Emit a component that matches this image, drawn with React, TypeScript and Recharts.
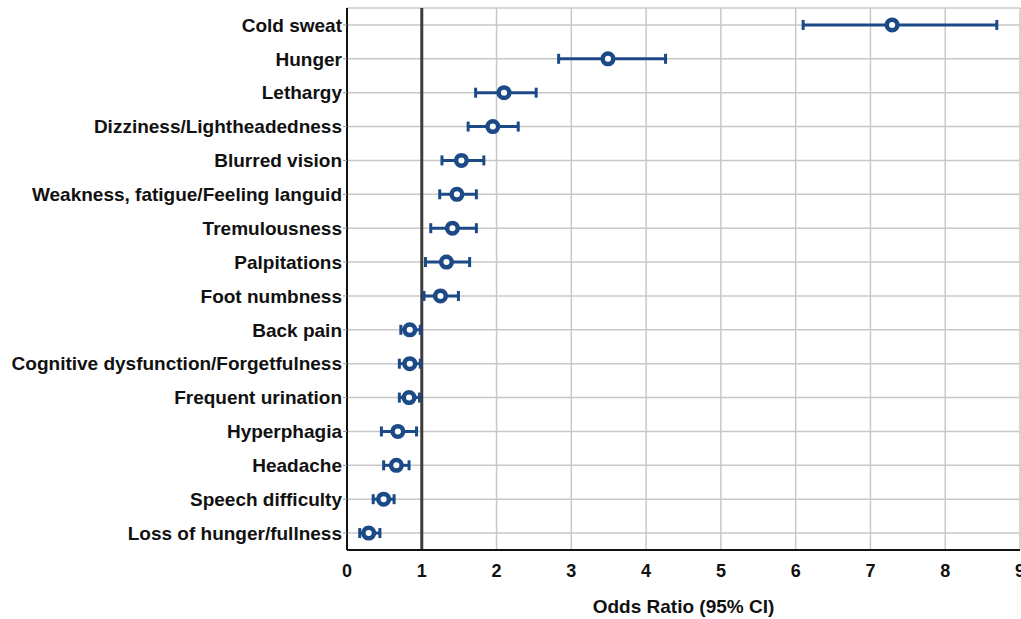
import { ScatterChart, Scatter, XAxis, YAxis, CartesianGrid, ReferenceLine, ErrorBar } from "recharts";

const symptoms = [
  "Cold sweat",
  "Hunger",
  "Lethargy",
  "Dizziness/Lightheadedness",
  "Blurred vision",
  "Weakness, fatigue/Feeling languid",
  "Tremulousness",
  "Palpitations",
  "Foot numbness",
  "Back pain",
  "Cognitive dysfunction/Forgetfulness",
  "Frequent urination",
  "Hyperphagia",
  "Headache",
  "Speech difficulty",
  "Loss of hunger/fullness",
];

const oddsRatios = [7.29, 3.49, 2.1, 1.95, 1.53, 1.47, 1.41, 1.33, 1.25, 0.84, 0.84, 0.83, 0.68, 0.66, 0.49, 0.29];
const ciLow = [6.1, 2.83, 1.72, 1.62, 1.27, 1.24, 1.12, 1.05, 1.03, 0.72, 0.7, 0.7, 0.46, 0.49, 0.35, 0.17];
const ciHigh = [8.69, 4.26, 2.53, 2.29, 1.83, 1.73, 1.73, 1.64, 1.49, 0.98, 0.98, 0.97, 0.93, 0.83, 0.63, 0.44];

const xTicks = [0, 1, 2, 3, 4, 5, 6, 7, 8, 9];

const rows = symptoms.map((name, i) => ({
  name,
  or: oddsRatios[i],
  err: [oddsRatios[i] - ciLow[i], ciHigh[i] - oddsRatios[i]],
}));

const BLUE = "#1b4a86";
const FONT = "'Liberation Sans', Arial, sans-serif";

const RingDot = (props: any) => {
  const { cx, cy } = props;
  if (cx == null || cy == null) return null;
  return <circle cx={cx} cy={cy} r={5.3} fill="#fff" stroke={BLUE} strokeWidth={4.5} />;
};

export default function App() {
  return (
    <div style={{ position: "absolute", left: 0, top: 0, width: 1021, height: 619, overflow: "hidden", background: "#fff" }}>
      <ScatterChart width={1040} height={619} margin={{ top: 8, right: 20, bottom: 0, left: 0 }}>
        <CartesianGrid stroke="#c8c8c8" strokeWidth={1.5} />
        <XAxis
          type="number"
          dataKey="or"
          domain={[0, 9]}
          ticks={xTicks}
          interval={0}
          height={69}
          tickLine={false}
          tickSize={0}
          tickMargin={14}
          axisLine={{ stroke: "#111", strokeWidth: 2 }}
          tick={{ fontSize: 18, fontWeight: 700, fill: "#111", fontFamily: FONT }}
          label={{
            value: "Odds Ratio (95% CI)",
            position: "insideBottom",
            offset: 6,
            style: { fontSize: 19, fontWeight: 700, fill: "#111", fontFamily: FONT },
          }}
        />
        <XAxis
          xAxisId="top"
          type="number"
          orientation="top"
          domain={[0, 9]}
          height={0}
          tick={false}
          tickLine={false}
          axisLine={{ stroke: "#222", strokeWidth: 2 }}
        />
        <YAxis
          type="category"
          dataKey="name"
          reversed
          width={347}
          interval={0}
          tickSize={4}
          tickMargin={1}
          tickLine={{ stroke: "#999" }}
          axisLine={{ stroke: "#111", strokeWidth: 2 }}
          tick={{ fontSize: 19, fontWeight: 700, fill: "#111", fontFamily: FONT }}
        />
        <ReferenceLine x={1} stroke="#3c3c3c" strokeWidth={3} />
        <Scatter data={rows} shape={RingDot} isAnimationActive={false}>
          <ErrorBar dataKey="err" direction="x" width={5} stroke={BLUE} strokeWidth={3} />
        </Scatter>
      </ScatterChart>
    </div>
  );
}
